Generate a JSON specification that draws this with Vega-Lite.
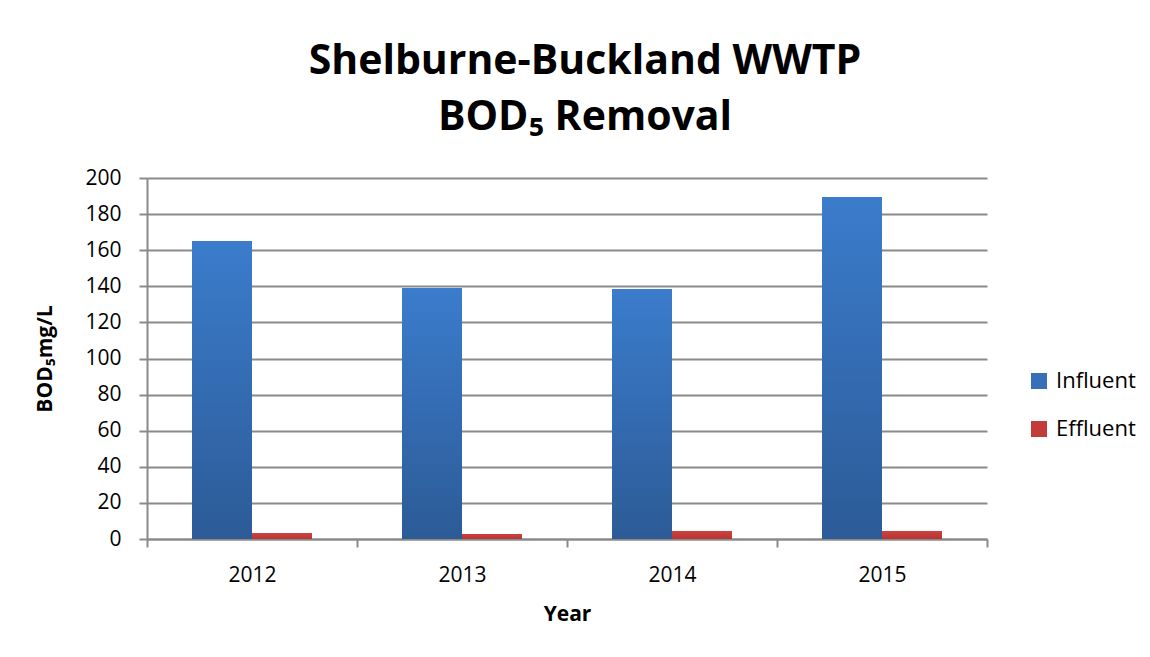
{
  "$schema": "https://vega.github.io/schema/vega-lite/v6.json",
  "width": 840,
  "height": 361,
  "autosize": {"type": "none"},
  "padding": {"left": 147, "top": 178, "right": 163, "bottom": 118},
  "background": "white",
  "data": {
    "values": [
      {"year": "2012", "series": "Influent", "bod": 165.1},
      {"year": "2012", "series": "Effluent", "bod": 3.3},
      {"year": "2013", "series": "Influent", "bod": 139.1},
      {"year": "2013", "series": "Effluent", "bod": 2.8},
      {"year": "2014", "series": "Influent", "bod": 138.5},
      {"year": "2014", "series": "Effluent", "bod": 4.4},
      {"year": "2015", "series": "Influent", "bod": 189.5},
      {"year": "2015", "series": "Effluent", "bod": 4.4}
    ]
  },
  "title": {
    "text": ["Shelburne-Buckland WWTP", "BOD₅ Removal"],
    "font": "Open Sans",
    "fontSize": 41,
    "fontWeight": "bold",
    "color": "black",
    "anchor": "middle",
    "dx": 18,
    "lineHeight": 56,
    "offset": 28
  },
  "encoding": {
    "x": {
      "field": "year",
      "type": "nominal",
      "scale": {"paddingInner": 0, "paddingOuter": 0},
      "axis": {
        "title": "Year",
        "labelAngle": 0,
        "tickBand": "extent",
        "tickSize": 8,
        "labelPadding": 17,
        "titlePadding": 18,
        "labelFont": "Open Sans",
        "labelFontSize": 21,
        "labelColor": "black",
        "titleFont": "Open Sans",
        "titleFontSize": 21,
        "titleFontWeight": "bold",
        "titleColor": "black",
        "domainColor": "#8a8a8a",
        "domainWidth": 2,
        "tickColor": "#8a8a8a",
        "tickWidth": 2
      }
    },
    "xOffset": {
      "field": "series",
      "type": "nominal",
      "scale": {"domain": ["Influent", "Effluent"], "paddingInner": 0, "paddingOuter": 0.75}
    },
    "y": {
      "field": "bod",
      "type": "quantitative",
      "scale": {"domain": [0, 200], "nice": false},
      "axis": {
        "title": "BOD₅mg/L",
        "values": [0, 20, 40, 60, 80, 100, 120, 140, 160, 180, 200],
        "tickSize": 8,
        "labelPadding": 18,
        "titlePadding": 29,
        "labelFont": "Open Sans",
        "labelFontSize": 21,
        "labelColor": "black",
        "titleFont": "Open Sans",
        "titleFontSize": 21,
        "titleFontWeight": "bold",
        "titleColor": "black",
        "domainColor": "#8a8a8a",
        "domainWidth": 2,
        "tickColor": "#8a8a8a",
        "tickWidth": 2,
        "gridColor": "#8a8a8a",
        "gridWidth": 2
      }
    }
  },
  "layer": [
    {
      "mark": {"type": "bar"},
      "encoding": {
        "color": {
          "field": "series",
          "type": "nominal",
          "title": null,
          "scale": {"domain": ["Influent", "Effluent"], "range": ["#3670b8", "#c23d3a"]},
          "legend": {
            "orient": "none",
            "legendX": 881,
            "legendY": 192,
            "symbolType": "square",
            "symbolSize": 256,
            "symbolStrokeWidth": 0,
            "symbolOpacity": 1,
            "rowPadding": 26,
            "labelFont": "Open Sans",
            "labelFontSize": 22,
            "labelColor": "black",
            "labelOffset": 6
          }
        }
      }
    },
    {
      "transform": [{"filter": "datum.series === 'Influent'"}],
      "mark": {
        "type": "bar",
        "color": {"gradient": "linear", "x1": 0, "y1": 0, "x2": 0, "y2": 1, "stops": [{"offset": 0, "color": "#3b7ccc"}, {"offset": 1, "color": "#2c5b97"}]}
      },
      "encoding": {}
    },
    {
      "transform": [{"filter": "datum.series === 'Effluent'"}],
      "mark": {
        "type": "bar",
        "color": {"gradient": "linear", "x1": 0, "y1": 0, "x2": 0, "y2": 1, "stops": [{"offset": 0, "color": "#d0423e"}, {"offset": 1, "color": "#b43633"}]}
      },
      "encoding": {}
    }
  ],
  "config": {"view": {"stroke": null}}
}
